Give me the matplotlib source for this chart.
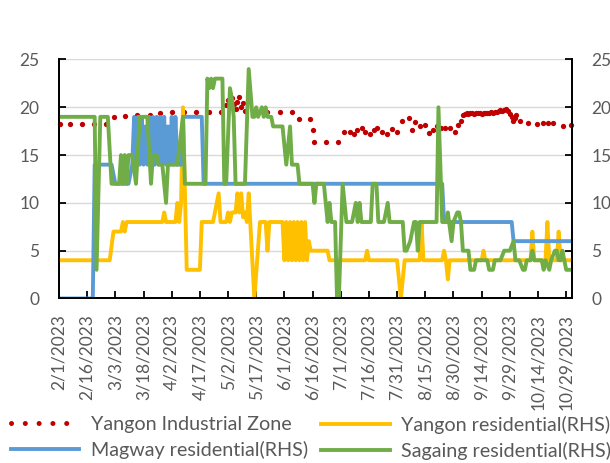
import matplotlib
matplotlib.use("Agg")
import matplotlib.pyplot as plt
from matplotlib.lines import Line2D
import pandas as pd

plt.rcParams['font.family'] = ['Lato', 'DejaVu Sans']

START = "2023-02-01"

# Yangon Industrial Zone (LHS) - dots as seen: day offset from START, value
iz_day = [0.4, 5.6, 12.0, 18.6, 24.8, 29.2, 35.4, 41.6, 48.2, 54.0, 60.3, 66.4, 73.0,
          79.7, 86.0,
          89, 90, 91, 92, 93, 94, 95, 96, 97, 98, 99,
          104.6, 110.8, 117.5, 124.1, 127.6, 133.8, 135.0, 135.6, 142.2, 148.4,
          151.5, 155.1, 156.9, 158.7, 161.3, 163.1, 165.7, 167.5, 169.3, 172.0,
          174.6, 177.3, 180.0, 182.6, 186.1, 187.9, 189.7, 192.3, 195.0, 196.8,
          199.3, 201.4, 203.5, 205.6, 208.3, 211.0, 212.6, 214.2, 215.2,
          216, 217, 218, 219, 220, 221, 222, 223, 224, 225, 226, 227, 228, 229, 230,
          231, 232, 233, 234, 235, 236, 237, 238, 239, 240, 241, 241.6, 242.5, 243.5,
          245.5, 249.8, 254.5, 257.8, 260.4, 263.0, 268.4, 272.7]
iz_val = [18.25, 18.25, 18.25, 18.25, 18.25, 19.0, 19.1, 19.2, 19.2, 19.4, 19.5, 19.5,
          19.55, 19.55, 19.55,
          20.2, 20.8, 20.4, 21.0, 20.3, 19.8, 20.6, 21.1, 20.0, 20.5, 19.6,
          19.55, 19.55, 19.55, 19.55, 18.8, 18.8, 17.6, 16.4, 16.4, 16.4,
          17.4, 17.4, 17.2, 17.6, 17.8, 17.4, 17.2, 17.6, 17.8, 17.4,
          17.2, 17.7, 17.4, 18.6, 18.9, 17.6, 18.5, 18.0, 18.2, 17.3,
          17.6, 18.0, 17.8, 17.8, 17.8, 17.4, 18.1, 18.6, 19.2,
          19.3, 19.4, 19.3, 19.4, 19.4, 19.3, 19.4, 19.4, 19.4, 19.3, 19.4, 19.4, 19.4,
          19.4, 19.5, 19.4, 19.5, 19.5, 19.6, 19.7, 19.6, 19.7, 19.8, 19.6, 19.3, 19.0,
          18.6, 18.9, 19.2,
          18.6, 18.4, 18.25, 18.4, 18.4, 18.4, 18.0, 18.2]

# Yangon residential (RHS)
yr_day = [0, 27, 29, 33, 34, 35, 36, 55, 56, 57, 62, 63, 64, 65, 66, 68, 75, 76, 82, 83,
          85, 86, 89, 90, 91, 92, 93, 94, 95, 96, 97, 98, 99, 100, 101, 104, 107, 110,
          111, 112, 119, 120, 121, 122, 123, 124, 125, 126, 127, 128, 129, 130, 131, 132,
          133, 134, 143, 144, 163, 164, 165, 180, 182, 184, 192, 193, 194, 204, 205, 206,
          207, 208, 225, 226, 227, 251, 252, 253, 259, 260, 261, 265, 266, 267, 273]
yr_val = [4, 4, 7, 7, 8, 7, 8, 8, 9, 8, 8, 10, 8, 10, 20, 3, 3, 8, 8, 9,
          11, 8, 8, 9, 8, 9, 9, 9, 11, 9, 11, 8.5, 9, 8, 11, 0, 8, 8,
          5, 8, 8, 4, 8, 4, 8, 4, 8, 4, 8, 4, 8, 4, 8, 4,
          6, 5, 5, 4, 4, 5, 4, 4, 0, 4, 4, 8, 4, 4, 5, 4,
          2, 4, 4, 5, 4, 4, 7, 4, 4, 8, 4, 4, 7, 4, 4]

# Magway residential (RHS)
mg_day = [0, 18, 19, 28, 30, 37, 39, 40, 41, 42, 43, 44, 45, 46, 47, 48, 49, 50, 51, 52,
          53, 54, 55, 56, 57, 58, 59, 60, 61, 62, 63, 65, 66, 76, 77, 204, 205, 241, 242,
          273]
mg_val = [0, 0, 14, 14, 12, 12, 14, 19, 14, 19, 14, 19, 14, 18, 14, 19, 14, 19, 14, 19,
          14, 19, 14, 19, 14, 18, 14, 19, 14, 19, 14, 14, 19, 19, 12, 12, 8, 8, 6,
          6]

# Sagaing residential (RHS)
sg_day = [0, 19, 20, 22, 26, 28, 32, 33, 34, 35, 36, 37, 39, 41, 43, 47, 49, 50, 52, 53,
          55, 57, 58, 63, 66, 67, 78, 79, 80, 81, 82, 83, 87, 88, 89, 91, 92, 93, 94, 99,
          101, 103, 104, 105, 106, 108, 109, 110, 111, 113, 114, 119, 121, 123, 124, 127,
          128, 135, 136, 137, 141, 143, 144, 145, 147, 148, 149, 151, 153, 156, 158, 159,
          160, 161, 166, 167, 169, 170, 173, 175, 176, 183, 184, 185, 187, 189, 190, 191,
          192, 201, 202, 204, 206, 207, 209, 210, 212, 213, 214, 215, 218, 219, 221, 222,
          228, 229, 231, 232, 235, 237, 240, 242, 243, 245, 247, 248, 249, 251, 252, 253,
          257, 258, 259, 261, 262, 264, 265, 266, 267, 268, 270, 273]
sg_val = [19, 19, 3, 19, 19, 12, 12, 15, 12, 15, 12, 15, 15, 12, 19, 19, 12, 15, 15, 14,
          14, 10, 14, 14, 19, 12, 12, 23, 22, 23, 22, 23, 23, 12, 12, 22, 21, 19, 12, 12,
          24, 19, 19, 20, 19, 20, 19, 20, 19, 19, 18, 18, 14, 18, 14, 14,
          12, 12, 10, 12, 12, 8, 10, 8, 8, 0, 0, 12, 8, 8, 10, 8,
          10, 8, 8, 12, 12, 8, 8, 10, 8, 8, 5, 5, 6, 8, 8, 5,
          8, 8, 20, 8, 8, 9, 6, 8, 9, 9, 8, 5, 5, 3, 3, 4,
          4, 3, 3, 4, 4, 5, 5, 6, 4, 4, 3, 3, 4, 4, 5, 4,
          4, 3, 4, 3, 4, 5, 5, 4, 4, 5, 3, 3]

labels = ["Yangon Industrial Zone", "Yangon residential(RHS)",
          "Magway residential(RHS)", "Sagaing residential(RHS)"]
colors = ["#C00000", "#FFC000", "#5B9BD5", "#70AD47"]

tick_step_days = 15
x_end = "2023-11-01"


def to_dates(days):
    return pd.Timestamp(START) + pd.to_timedelta(days, unit="D")


fig = plt.figure(figsize=(6.10, 4.63), dpi=100)
ax = fig.add_axes([0.0967, 0.3553, 0.8407, 0.5162])
ax2 = ax.twinx()

txt_col = "#595959"
fs = 12.5
lfs = 14.2

# primary: Yangon IZ as round dots
ax.plot(to_dates(iz_day), iz_val, linestyle="none", marker="o", ms=3.8,
        mfc=colors[0], mec=colors[0], mew=0, zorder=3, clip_on=False)
ax.set_ylim(0, 25)
ax.set_yticks([0, 5, 10, 15, 20, 25])
ax.grid(axis="y", color="#D9D9D9", lw=1.0)
ax.set_axisbelow(True)

lw = 2.8
ax2.plot(to_dates(yr_day), yr_val, color=colors[1], lw=lw, solid_joinstyle="round")
ax2.plot(to_dates(mg_day), mg_val, color=colors[2], lw=lw, solid_joinstyle="round")
ax2.plot(to_dates(sg_day), sg_val, color=colors[3], lw=lw, solid_joinstyle="round")
ax2.set_ylim(0, 25)
ax2.set_yticks([0, 5, 10, 15, 20, 25])

ax.set_xlim(pd.Timestamp(START), pd.Timestamp(x_end))
ticks = pd.date_range(START, "2023-10-29", freq=f"{tick_step_days}D")
ax.set_xticks(ticks)
ax.set_xticklabels([f"{d.month}/{d.day}/{d.year}" for d in ticks], rotation=90)

for a in (ax, ax2):
    a.spines["top"].set_visible(False)
    for s in ("left", "right", "bottom"):
        a.spines[s].set_color("black")
        a.spines[s].set_linewidth(1.3)
ax.tick_params(axis="x", direction="in", length=5, width=1.3, pad=11,
               labelsize=fs, labelcolor=txt_col)
ax.tick_params(axis="y", direction="in", length=5, width=1.3, pad=14,
               labelsize=fs, labelcolor=txt_col)
ax2.tick_params(axis="y", direction="in", length=5, width=1.3, pad=14,
                labelsize=fs, labelcolor=txt_col)

h_iz = Line2D([], [], color=colors[0], lw=3.6, linestyle=(0, (0.01, 2.75)),
              dash_capstyle="round")
h_yr = Line2D([], [], color=colors[1], lw=lw)
h_mg = Line2D([], [], color=colors[2], lw=lw)
h_sg = Line2D([], [], color=colors[3], lw=lw)

leg_kw = dict(loc="upper left", frameon=False, fontsize=lfs, handlelength=3.45,
              handletextpad=0.6, labelspacing=0.42, borderpad=0, borderaxespad=0)
leg1 = fig.legend([h_iz, h_mg], [labels[0], labels[2]],
                  bbox_to_anchor=(0.018, 0.102), **leg_kw)
leg2 = fig.legend([h_yr, h_sg], [labels[1], labels[3]],
                  bbox_to_anchor=(0.527, 0.102), **leg_kw)
for lg in (leg1, leg2):
    for t in lg.get_texts():
        t.set_color(txt_col)

fig.savefig("out.png", dpi=100)
